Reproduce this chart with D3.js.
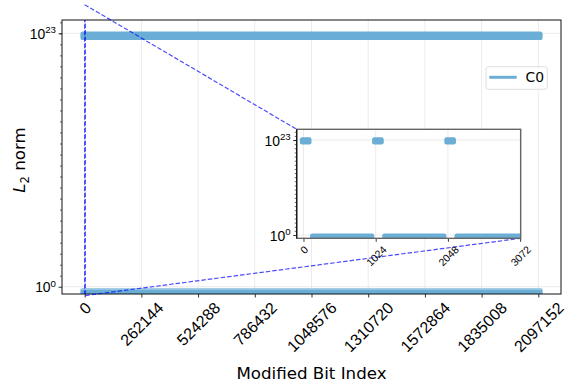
<!DOCTYPE html>
<html>
<head>
<meta charset="utf-8">
<script src="https://cdn.jsdelivr.net/npm/d3@7"></script>
<style>
body { margin: 0; background: #fff; }
svg { display: block; font-family: "DejaVu Sans", sans-serif; }
</style>
</head>
<body>
<svg></svg>
<script>
// C0 series, as runs of bit indices that share the same L2 norm
var seriesName = "C0";
// main view: both levels span the whole index range
var mainRunStart = [0, 0];
var mainRunEnd = [2097151, 2097151];
var mainRunValue = [6e22, 0.3];
// inset view: first 3072 bits
var insetRunStart = [0, 144, 1024, 1168, 2048, 2192];
var insetRunEnd = [63, 952, 1087, 1976, 2111, 3071];
var insetRunValue = [6e22, 0.3, 6e22, 0.3, 6e22, 0.3];

var mainXTicks = [0, 262144, 524288, 786432, 1048576, 1310720, 1572864, 1835008, 2097152];
var insetXTicks = [0, 1024, 2048, 3072];
var yTicks = [1, 1e23];
var yTickExp = ["0", "23"];
var decades = d3.range(-1, 27).map(function(d) { return Math.pow(10, d); });

var blue = "#6aaed6";
var gridColor = "#e6e6e6";

var svgWidth = 566, svgHeight = 381;
var svg = d3.select("svg")
    .attr("width", svgWidth)
    .attr("height", svgHeight);

// main axes box
var L = 62, R = 561, T = 20, B = 294;
var xScale = d3.scaleLinear().domain([-104858, 2202009]).range([L, R]);
var yScale = d3.scaleLog().domain([Math.pow(10, -0.66), Math.pow(10, 24.21)]).range([B, T]);

// inset box
var iL = 296.7, iR = 520.7, iT = 129.3, iB = 238.3;
var ixScale = d3.scaleLinear().domain([-96, 3080]).range([iL, iR]);
var iyScale = d3.scaleLog().domain([Math.pow(10, -0.8), Math.pow(10, 25.6)]).range([iB, iT]);

var defs = svg.append("defs");
defs.append("clipPath").attr("id", "clipMain")
    .append("rect").attr("x", L).attr("y", T).attr("width", R - L).attr("height", B - T);
defs.append("clipPath").attr("id", "clipInset")
    .append("rect").attr("x", iL).attr("y", iT).attr("width", iR - iL).attr("height", iB - iT);

function rotLabels(sel, size, top) {
    sel.selectAll(".tick text").each(function() {
        var t = d3.select(this)
            .attr("y", 0).attr("dy", null)
            .attr("font-size", size)
            .attr("text-anchor", "middle")
            .attr("dominant-baseline", "central")
            .attr("fill", "#000");
        var len = this.getComputedTextLength();
        var half = (len + size * 0.73) / Math.SQRT2 / 2;
        t.attr("transform", "translate(0," + (top + half) + ") rotate(-45)");
    });
}

function powLabels(sel, size) {
    sel.selectAll(".tick text").each(function(d, i) {
        var t = d3.select(this).text(null)
            .attr("x", -6).attr("dy", "0.36em")
            .attr("font-size", size).attr("fill", "#000");
        t.append("tspan").text("10");
        t.append("tspan").attr("dy", -5.5).attr("font-size", size * 0.7).text(yTickExp[i]);
    });
}

function drawRuns(g, xs, ys, starts, ends, values, r, color) {
    for (var i = 0; i < starts.length; i++) {
        g.append("rect")
            .attr("x", xs(starts[i]) - r)
            .attr("y", ys(values[i]) - r)
            .attr("width", xs(ends[i]) - xs(starts[i]) + 2 * r)
            .attr("height", 2 * r)
            .attr("rx", r * 0.6)
            .attr("fill", color);
    }
}

// ---- main plot ----
var grid = svg.append("g");
mainXTicks.forEach(function(v) {
    grid.append("line").attr("x1", xScale(v)).attr("x2", xScale(v)).attr("y1", T).attr("y2", B)
        .attr("stroke", gridColor).attr("stroke-width", 0.8);
});
yTicks.forEach(function(v) {
    grid.append("line").attr("x1", L).attr("x2", R).attr("y1", yScale(v)).attr("y2", yScale(v))
        .attr("stroke", gridColor).attr("stroke-width", 0.8);
});

var marks = svg.append("g").attr("clip-path", "url(#clipMain)");
drawRuns(marks, xScale, yScale, mainRunStart, mainRunEnd, mainRunValue, 4.3, blue);
// lighter speckled top edge of the low band
marks.append("rect")
    .attr("x", xScale(mainRunStart[1]) - 4.3)
    .attr("y", yScale(mainRunValue[1]) - 4.3)
    .attr("width", xScale(mainRunEnd[1]) - xScale(mainRunStart[1]) + 8.6)
    .attr("height", 1.6)
    .attr("fill", "#b5d6ea").attr("opacity", 0.7);

var xAxis = svg.append("g").attr("transform", "translate(0," + B + ")")
    .call(d3.axisBottom(xScale).tickValues(mainXTicks).tickFormat(d3.format("d")).tickSize(3.5).tickSizeOuter(0));
xAxis.select(".domain").remove();
xAxis.selectAll(".tick line").attr("stroke", "#000").attr("stroke-width", 0.8);
rotLabels(xAxis, 16, 7);

var yMinor = svg.append("g").attr("transform", "translate(" + L + ",0)")
    .call(d3.axisLeft(yScale).tickValues(decades.filter(function(d) {
        return d >= yScale.domain()[0] && d <= yScale.domain()[1] && yTicks.indexOf(d) < 0;
    })).tickFormat("").tickSize(2).tickSizeOuter(0));
yMinor.select(".domain").remove();
yMinor.selectAll(".tick line").attr("stroke", "#000").attr("stroke-width", 0.6);

var yAxis = svg.append("g").attr("transform", "translate(" + L + ",0)")
    .call(d3.axisLeft(yScale).tickValues(yTicks).tickSize(3.5).tickSizeOuter(0));
yAxis.select(".domain").remove();
yAxis.selectAll(".tick line").attr("stroke", "#000").attr("stroke-width", 0.8);
powLabels(yAxis, 13.9);

svg.append("rect").attr("x", L).attr("y", T).attr("width", R - L).attr("height", B - T)
    .attr("fill", "none").attr("stroke", "#111").attr("stroke-width", 1);

// axis titles
svg.append("text").attr("x", (L + R) / 2).attr("y", 378.5)
    .attr("text-anchor", "middle").attr("font-size", 16.67).text("Modified Bit Index");
var yl = svg.append("text").attr("transform", "translate(25,160) rotate(-90)")
    .attr("text-anchor", "middle").attr("font-size", 16.67);
yl.append("tspan").attr("font-style", "italic").text("L");
yl.append("tspan").attr("font-size", 11.5).attr("dy", 4).text("2");
yl.append("tspan").attr("dy", -4).text(" norm");

// ---- zoom indicator ----
var zx0 = xScale(ixScale.domain()[0]), zx1 = xScale(ixScale.domain()[1]);
var zy0 = yScale(iyScale.domain()[1]), zy1 = yScale(iyScale.domain()[0]);
var dash = { stroke: "blue", op: 0.7, w: 1.2, d: "4.5,2" };
svg.append("g").attr("clip-path", "url(#clipMain)")
    .append("rect").attr("x", zx0).attr("y", zy0).attr("width", zx1 - zx0).attr("height", zy1 - zy0)
    .attr("fill", "none").attr("stroke", dash.stroke).attr("stroke-opacity", dash.op)
    .attr("stroke-width", dash.w).attr("stroke-dasharray", dash.d);
svg.append("line").attr("x1", zx0).attr("y1", zy0).attr("x2", iL).attr("y2", iT)
    .attr("stroke", dash.stroke).attr("stroke-opacity", dash.op)
    .attr("stroke-width", dash.w).attr("stroke-dasharray", dash.d);
svg.append("line").attr("x1", zx1).attr("y1", zy1).attr("x2", iR).attr("y2", iB)
    .attr("stroke", dash.stroke).attr("stroke-opacity", dash.op)
    .attr("stroke-width", dash.w).attr("stroke-dasharray", dash.d);

// ---- inset ----
var inset = svg.append("g");
inset.append("rect").attr("x", iL).attr("y", iT).attr("width", iR - iL).attr("height", iB - iT).attr("fill", "#fff");
insetXTicks.forEach(function(v) {
    inset.append("line").attr("x1", ixScale(v)).attr("x2", ixScale(v)).attr("y1", iT).attr("y2", iB)
        .attr("stroke", gridColor).attr("stroke-width", 0.8);
});
yTicks.forEach(function(v) {
    inset.append("line").attr("x1", iL).attr("x2", iR).attr("y1", iyScale(v)).attr("y2", iyScale(v))
        .attr("stroke", gridColor).attr("stroke-width", 0.8);
});
var imarks = inset.append("g").attr("clip-path", "url(#clipInset)");
drawRuns(imarks, ixScale, iyScale, insetRunStart, insetRunEnd, insetRunValue, 3.6, blue);

var ixAxis = inset.append("g").attr("transform", "translate(0," + iB + ")")
    .call(d3.axisBottom(ixScale).tickValues(insetXTicks).tickFormat(d3.format("d")).tickSize(3.5).tickSizeOuter(0));
ixAxis.select(".domain").remove();
ixAxis.selectAll(".tick line").attr("stroke", "#000").attr("stroke-width", 0.8);
rotLabels(ixAxis, 10.5, 6.5);

var iyMinor = inset.append("g").attr("transform", "translate(" + iL + ",0)")
    .call(d3.axisLeft(iyScale).tickValues(decades.filter(function(d) {
        return d >= iyScale.domain()[0] && d <= iyScale.domain()[1] && yTicks.indexOf(d) < 0;
    })).tickFormat("").tickSize(2).tickSizeOuter(0));
iyMinor.select(".domain").remove();
iyMinor.selectAll(".tick line").attr("stroke", "#000").attr("stroke-width", 0.6);

var iyAxis = inset.append("g").attr("transform", "translate(" + iL + ",0)")
    .call(d3.axisLeft(iyScale).tickValues(yTicks).tickSize(3.5).tickSizeOuter(0));
iyAxis.select(".domain").remove();
iyAxis.selectAll(".tick line").attr("stroke", "#000").attr("stroke-width", 0.8);
powLabels(iyAxis, 13.9);

inset.append("rect").attr("x", iL).attr("y", iT).attr("width", iR - iL).attr("height", iB - iT)
    .attr("fill", "none").attr("stroke", "#666").attr("stroke-width", 1.4);
inset.append("line").attr("x1", iL).attr("x2", iL).attr("y1", iT).attr("y2", iB)
    .attr("stroke", "#111").attr("stroke-width", 1.2);

// ---- legend ----
var leg = svg.append("g").attr("transform", "translate(486,66.7)");
leg.append("rect").attr("width", 61.3).attr("height", 22.6).attr("rx", 2.5)
    .attr("fill", "#fff").attr("fill-opacity", 0.8).attr("stroke", "#d5d5d5").attr("stroke-width", 0.8);
leg.append("line").attr("x1", 3.3).attr("x2", 30.7).attr("y1", 10.6).attr("y2", 10.6)
    .attr("stroke", blue).attr("stroke-width", 3);
leg.append("text").attr("x", 39.5).attr("y", 15.6).attr("font-size", 13.9).text(seriesName);
</script>
</body>
</html>
